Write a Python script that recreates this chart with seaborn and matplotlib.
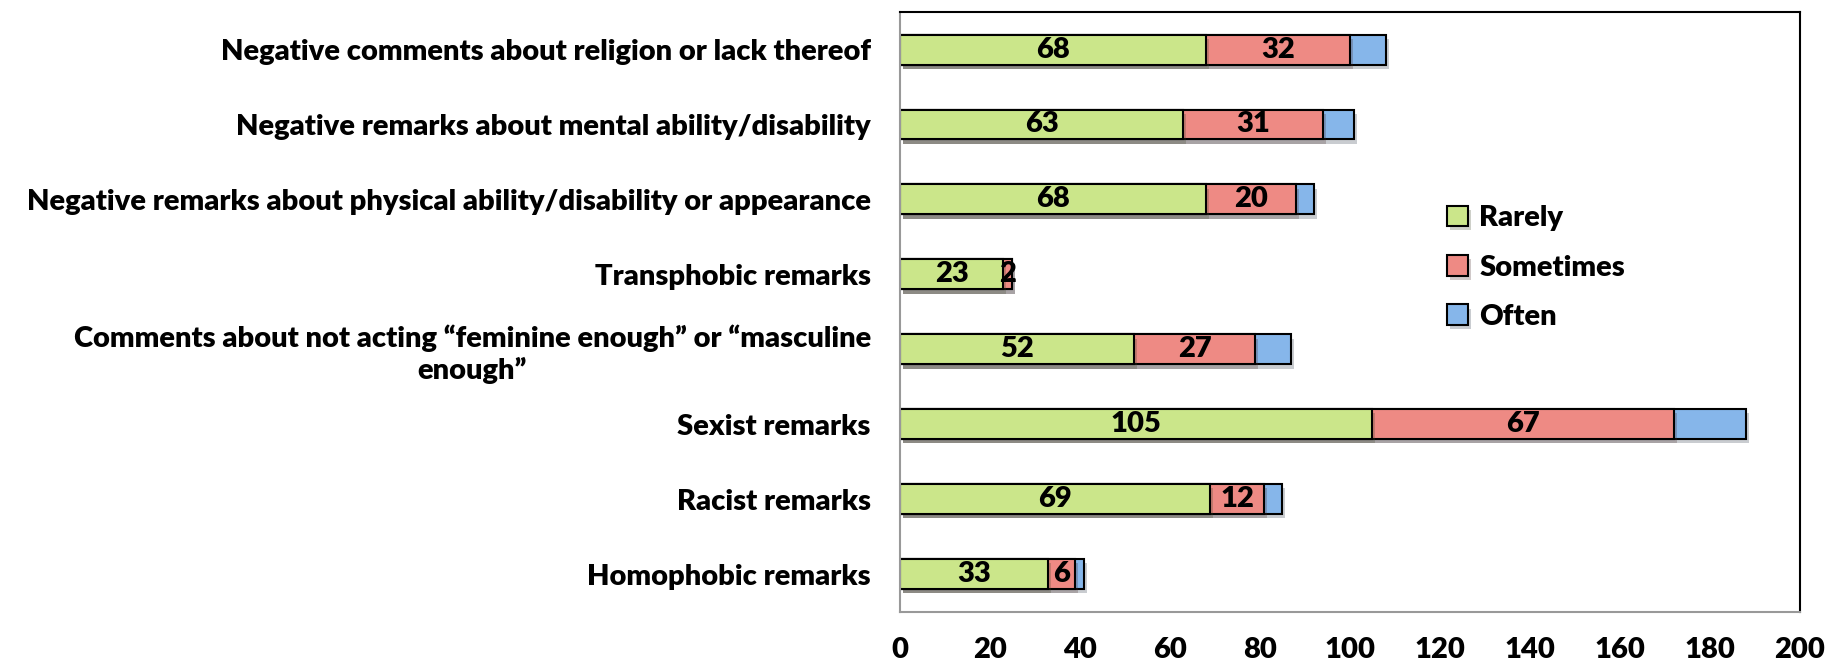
import numpy as np
import pandas as pd
import matplotlib.pyplot as plt
import matplotlib.patheffects as pe
import seaborn as sns

sns.set_style('white')
plt.rcParams['font.family'] = ['Lato', 'DejaVu Sans']
plt.rcParams['text.color'] = 'black'
plt.rcParams['xtick.labelcolor'] = 'black'
plt.rcParams['ytick.labelcolor'] = 'black'

categories = [
    'Negative comments about religion or lack thereof',
    'Negative remarks about mental ability/disability',
    'Negative remarks about physical ability/disability or appearance',
    'Transphobic remarks',
    'Comments about not acting \u201cfeminine enough\u201d or \u201cmasculine\nenough\u201d',
    'Sexist remarks',
    'Racist remarks',
    'Homophobic remarks',
]
rarely = [68, 63, 68, 23, 52, 105, 69, 33]
sometimes = [32, 31, 20, 2, 27, 67, 12, 6]
often = [8, 7, 4, 0, 8, 16, 4, 2]

colors = {'Rarely': '#cbe68a', 'Sometimes': '#ee8a84', 'Often': '#86b6ea'}
W = 'heavy'

df = pd.DataFrame({'cat': categories, 'Rarely': rarely,
                   'Sometimes': sometimes, 'Often': often})
df['rs'] = df['Rarely'] + df['Sometimes']
df['total'] = df['rs'] + df['Often']

fig = plt.figure(figsize=(18.48, 6.70), dpi=100)
ax = fig.add_axes([0.487, 0.087, 0.487, 0.895])

shadow = [pe.SimplePatchShadow(offset=(2, -3), alpha=0.25), pe.Normal()]
for col, lab in [('total', 'Often'), ('rs', 'Sometimes'), ('Rarely', 'Rarely')]:
    sns.barplot(data=df, x=col, y='cat', orient='h', color=colors[lab],
                width=0.4, edgecolor='black', linewidth=1.5,
                saturation=1, ax=ax, label=lab)

for p in ax.patches:
    p.set_path_effects(shadow)

# segment value labels
for i in range(len(categories)):
    ax.text(rarely[i] / 2, i, str(rarely[i]), ha='center', va='center',
            fontsize=21, fontweight=W, color='black')
    ax.text(rarely[i] + sometimes[i] / 2, i, str(sometimes[i]), ha='center',
            va='center', fontsize=21, fontweight=W, color='black')

ax.set_xlim(0, 200)
ax.set_ylim(len(categories) - 0.5, -0.5)
ax.set_xticks(np.arange(0, 201, 20))
ax.set_xlabel('')
ax.set_ylabel('')

ax.tick_params(axis='x', which='major', direction='out', length=8, width=1.2,
               color='#999999', pad=10, labelsize=21)
ax.tick_params(axis='y', which='major', length=0, pad=21, labelsize=21)
ax.set_yticks(np.arange(-0.5, len(categories), 1.0), minor=True)
ax.tick_params(axis='y', which='minor', direction='out', length=8, width=1.2,
               color='#999999')
for t in ax.get_xticklabels() + ax.get_yticklabels():
    t.set_fontweight(W)
for t in ax.get_yticklabels():
    t.set_multialignment('center')

for s in ['left', 'bottom']:
    ax.spines[s].set_color('#999999')
    ax.spines[s].set_linewidth(1.5)
for s in ['top', 'right']:
    ax.spines[s].set_color('black')
    ax.spines[s].set_linewidth(1.5)

handles, labels = ax.get_legend_handles_labels()
order = [labels.index(l) for l in ['Rarely', 'Sometimes', 'Often']]
leg = ax.legend([handles[k] for k in order], [labels[k] for k in order],
                loc='center left', bbox_to_anchor=(0.579, 0.574), frameon=False,
                prop={'size': 21, 'weight': W}, handlelength=0.7,
                handleheight=0.7, handletextpad=0.4, labelspacing=0.8)

fig.savefig('out.png', dpi=100)
